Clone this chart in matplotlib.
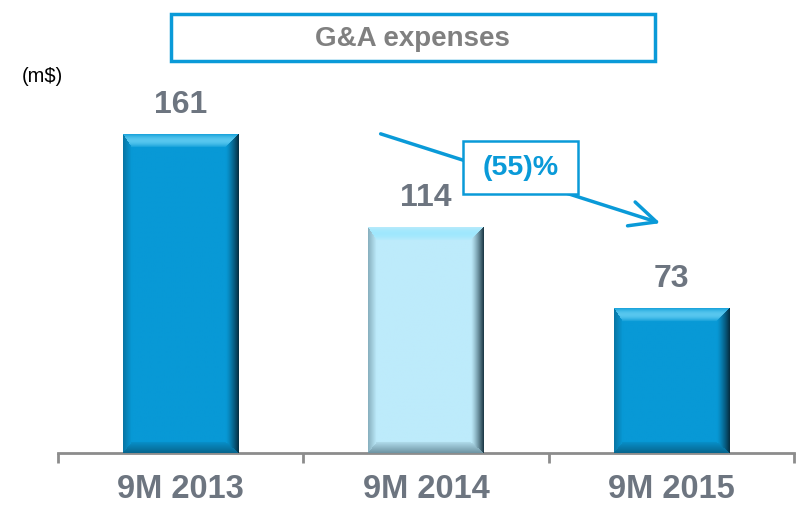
import numpy as np
import matplotlib
matplotlib.use("Agg")
import matplotlib.pyplot as plt
from matplotlib.patches import FancyArrowPatch
from matplotlib.colors import to_rgb

plt.rcParams["font.family"] = ["Liberation Sans", "DejaVu Sans"]

# data
categories = ["9M 2013", "9M 2014", "9M 2015"]
values = [161, 114, 73]
bar_colors = ["#0899d6", "#bdebfb", "#0899d6"]
title = "G&A expenses"
unit = "(m$)"
change_label = "(55)%"

CYAN = "#0a9ad8"
GRAY = "#6d7580"

fig = plt.figure(figsize=(7.96, 5.06), dpi=100)
W, H = 796, 506
ax = fig.add_axes([58 / W, (H - 454) / H, 736 / W, 400 / H])
ax.set_xlim(-0.5, len(categories) - 0.5)
ax.set_ylim(0, 202.5)

bars = ax.bar(range(len(values)), values, width=0.47, color=bar_colors, zorder=2)


def bevel_image(color, w, h, b=13):
    # shaded bar with a bevel on each edge
    base = np.array(to_rgb(color))
    u = np.arange(w)[None, :] + 0.5
    v = np.arange(h)[:, None] + 0.5
    uu = np.broadcast_to(u, (h, w))
    vv = np.broadcast_to(v, (h, w))
    d = np.stack([uu * 1.5, w - uu, vv, (h - vv) * 1.2])  # left, right, top, bottom
    side = d.argmin(axis=0)
    dist = d.min(axis=0)
    img = np.broadcast_to(base, (h, w, 3)).copy()
    t = np.clip(dist / b, 0, 1)
    inb = dist < b
    light = np.array([0.55, 0.9, 1.0])
    dark = np.array([0.02, 0.12, 0.17])
    # top: light strip
    m = inb & (side == 2)
    k = (np.sin(t * np.pi) * 0.5 + 0.1)[m][:, None]
    img[m] = img[m] * (1 - k) + light * k
    # right: dark toward edge
    m = inb & (side == 1)
    k = ((1 - t) ** 1.3 * 0.9)[m][:, None]
    img[m] = img[m] * (1 - k) + dark * k
    # left: slightly dark
    m = inb & (side == 0)
    k = ((1 - t) * 0.3)[m][:, None]
    img[m] = img[m] * (1 - k) + dark * k
    # bottom: darker
    m = inb & (side == 3)
    k = ((1 - t) * 0.35 + 0.08)[m][:, None]
    img[m] = img[m] * (1 - k) + dark * k
    return img


for b, c in zip(bars, bar_colors):
    x0, w = b.get_x(), b.get_width()
    h = b.get_height()
    p0 = ax.transData.transform((x0, 0))
    p1 = ax.transData.transform((x0 + w, h))
    pw, ph = int(round(p1[0] - p0[0])), int(round(p1[1] - p0[1]))
    ax.imshow(bevel_image(c, pw, ph), extent=(x0, x0 + w, 0, h),
              aspect="auto", zorder=3, interpolation="bilinear")
    ax.text(b.get_x() + w / 2, h + 8, str(int(h)), ha="center", va="bottom",
            fontsize=23, fontweight="bold", color=GRAY)

ax.set_xlim(-0.5, len(categories) - 0.5)
ax.set_ylim(0, 202.5)

for s in ["top", "right", "left"]:
    ax.spines[s].set_visible(False)
ax.spines["bottom"].set_color("#8c8c8c")
ax.spines["bottom"].set_linewidth(2)
ax.set_yticks([])
ax.set_xticks(np.arange(-0.5, len(categories)), minor=False)
ax.set_xticklabels([])
ax.tick_params(axis="x", length=7, width=2, color="#8c8c8c")
for i, cat in enumerate(categories):
    ax.text(i, -10, cat, ha="center", va="top", fontsize=23.5,
            fontweight="bold", color=GRAY)

# title box
fig.text(412 / W, 1 - 39 / H, title, ha="center", va="center", fontsize=20,
         fontweight="bold", color="#808080")
fig.patches.append(plt.Rectangle((171 / W, 1 - 62 / H), 484 / W, 47 / H,
                                 transform=fig.transFigure, fill=False,
                                 ec=CYAN, lw=2.5))

fig.text(22 / W, 1 - 76 / H, unit, ha="left", va="center", fontsize=14.5,
         color="black")

# change arrow
arrow = FancyArrowPatch((378 / W, 1 - 134 / H), (663 / W, 1 - 225 / H),
                        transform=fig.transFigure,
                        arrowstyle="->,head_length=19,head_width=9",
                        color=CYAN, lw=2.5, mutation_scale=1)
fig.patches.append(arrow)
fig.patches.append(plt.Rectangle((463 / W, 1 - 195 / H), 115 / W, 53 / H,
                                 transform=fig.transFigure, fc="white",
                                 ec=CYAN, lw=1.8, zorder=3))
fig.text(520.5 / W, 1 - 168.5 / H, change_label, ha="center", va="center",
         fontsize=20.5, fontweight="bold", color=CYAN, zorder=4)

fig.savefig("out.png", dpi=100)
